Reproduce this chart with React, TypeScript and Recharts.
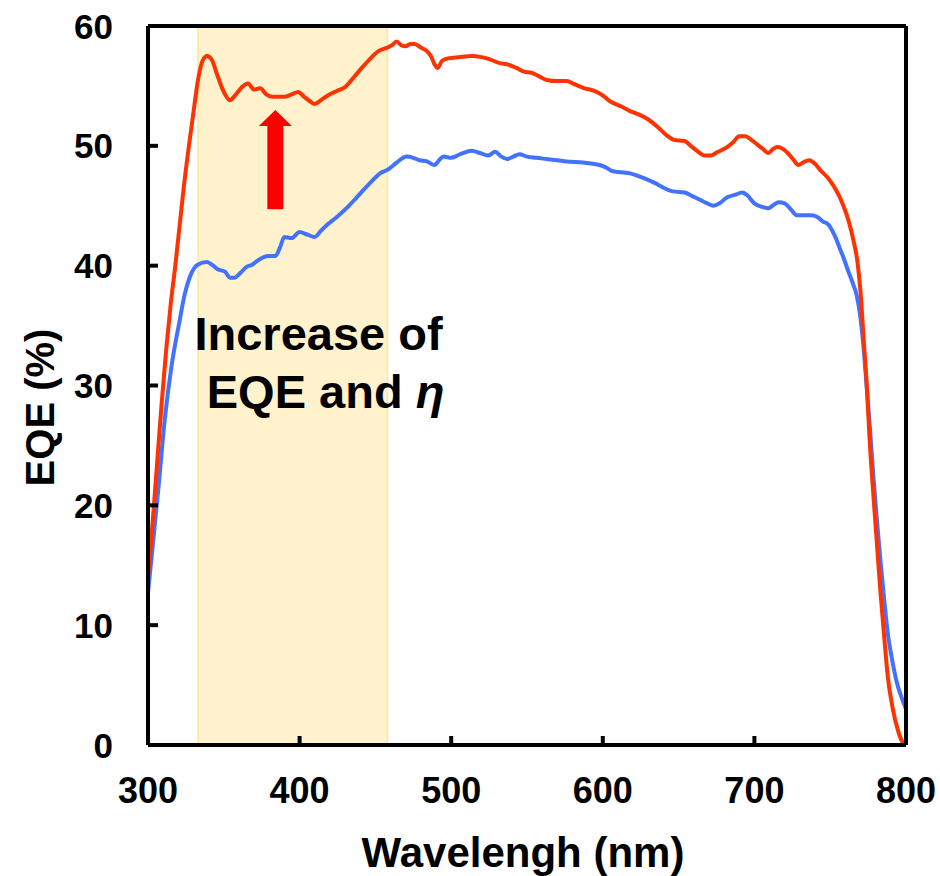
import React from "react";
import {
  LineChart,
  Line,
  XAxis,
  YAxis,
  ReferenceArea,
  ReferenceLine,
} from "recharts";

const xTicks = [300, 400, 500, 600, 700, 800];
const yTicks = [0, 10, 20, 30, 40, 50, 60];

// red curve (after treatment)
const redWavelength = [
  300, 303, 306, 309, 312, 315, 318, 321, 324, 327, 330, 333, 336, 339, 342, 346, 350, 354,
  358, 362, 366, 370, 374, 378, 382, 386, 390, 395, 399, 403, 407, 410, 415, 420, 425, 430,
  435, 441, 446, 452, 458, 461, 464, 467, 470, 473, 476, 480, 484, 487, 489, 491, 494, 498,
  505, 514, 520, 526, 532, 537, 543, 548, 553, 558, 563, 570, 576, 582, 588, 594, 600, 605,
  612, 618, 624, 630, 636, 642, 647, 654, 658, 663, 667, 671, 676, 682, 686, 690, 694, 698,
  702, 706, 709, 712, 715, 718, 722, 726, 729, 732, 736, 740, 744, 748, 752, 756, 759, 762,
  765, 768, 770, 772, 774, 776, 778.5, 781, 783, 785.5, 788, 791, 794.5, 797, 799.5,
];
const redEqe = [
  14.0, 18.5, 23.5, 28.5, 33.0, 36.8, 40.0, 43.5, 47.0, 50.0, 52.8, 55.5, 57.1, 57.5, 57.2, 55.8, 54.5, 53.8,
  54.3, 54.9, 55.2, 54.7, 54.8, 54.3, 54.1, 54.1, 54.1, 54.3, 54.5, 54.1, 53.7, 53.5, 53.9, 54.3, 54.6, 54.9,
  55.6, 56.5, 57.2, 57.9, 58.2, 58.4, 58.7, 58.4, 58.3, 58.5, 58.5, 58.2, 57.9, 57.4, 56.8, 56.5, 57.1, 57.3,
  57.4, 57.5, 57.4, 57.2, 56.9, 56.8, 56.5, 56.2, 56.1, 55.8, 55.5, 55.4, 55.4, 55.1, 54.8, 54.6, 54.2, 53.7,
  53.3, 52.9, 52.6, 52.2, 51.6, 50.9, 50.5, 50.4, 50.0, 49.5, 49.2, 49.2, 49.5, 49.9, 50.3, 50.8, 50.8, 50.5,
  50.1, 49.7, 49.4, 49.7, 49.9, 49.8, 49.4, 48.8, 48.4, 48.6, 48.8, 48.5, 47.9, 47.4, 46.7, 45.8, 44.9, 43.8,
  42.3, 40.3, 37.8, 34.0, 30.3, 25.5, 20.8, 16.5, 13.0, 9.2, 5.7, 3.2, 1.3, 0.4, 0.0,
];

// blue curve (reference)
const blueWavelength = [
  300, 303.5, 307, 311, 315.5, 321, 324, 327.7, 333, 338.7, 342, 346, 350.8, 354, 357, 361, 365, 369,
  372, 376, 380, 384, 387, 390, 394.8, 400, 405, 410, 414, 418, 424, 431, 437, 442, 448, 453,
  458, 464, 470.6, 475, 479, 484, 489, 492, 495, 500, 506, 513.5, 519, 524.5, 529, 533, 537, 541,
  545, 550, 556, 563, 570, 576, 587, 598, 602, 606, 612, 618, 625, 631, 636, 640, 646, 654,
  659, 664, 669, 673, 677, 682, 687, 692, 695, 700, 705, 709, 713, 716, 720, 724, 728, 732,
  737, 741, 745, 749, 753, 756.5, 759, 762, 765, 767.5, 770, 772, 774, 776, 778.5, 781, 783, 785.5,
  788, 791, 794, 797, 800,
];
const blueEqe = [
  12.7, 17.1, 21.6, 27.1, 31.6, 35.5, 37.5, 39.1, 40.1, 40.3, 40.1, 39.7, 39.5, 39.0, 39.0, 39.4, 39.9, 40.1,
  40.4, 40.7, 40.8, 40.8, 41.5, 42.4, 42.3, 42.8, 42.6, 42.4, 42.9, 43.4, 44.0, 44.8, 45.6, 46.3, 47.1, 47.7,
  48.0, 48.6, 49.1, 49.0, 48.8, 48.7, 48.4, 48.8, 49.1, 49.0, 49.3, 49.6, 49.4, 49.2, 49.5, 49.1, 48.9, 49.1,
  49.3, 49.1, 49.0, 48.9, 48.8, 48.7, 48.6, 48.4, 48.2, 47.9, 47.8, 47.7, 47.4, 47.1, 46.8, 46.5, 46.2, 46.1,
  45.8, 45.5, 45.2, 45.0, 45.2, 45.7, 45.9, 46.1, 45.9, 45.2, 44.9, 44.8, 45.1, 45.3, 45.2, 44.7, 44.2, 44.2,
  44.2, 44.1, 43.7, 43.4, 42.5, 41.4, 40.6, 39.5, 38.5, 37.5, 35.6, 33.2, 30.0, 26.8, 22.4, 18.5, 15.6, 12.3,
  9.3, 7.0, 5.2, 4.0, 3.0,
];

const redData = redWavelength.map((w, i) => ({ wl: w, eqe: redEqe[i] }));
const blueData = blueWavelength.map((w, i) => ({ wl: w, eqe: blueEqe[i] }));

const FONT = '"Liberation Sans", Arial, Helvetica, sans-serif';

const YTick = (props: any) => {
  const { x, y, payload } = props;
  const v = payload.value;
  return (
    <g>
      {v !== 0 && v !== 60 && (
        <line x1={x} y1={y} x2={x + 10} y2={y} stroke="#000" strokeWidth={4} />
      )}
      <text x={x - 35} y={y + 12.5} textAnchor="end" fontFamily={FONT} fontWeight="bold" fontSize={35} fill="#000">
        {v}
      </text>
    </g>
  );
};

const XTick = (props: any) => {
  const { x, y, payload } = props;
  const v = payload.value;
  return (
    <g>
      {v !== 300 && v !== 800 && (
        <line x1={x} y1={y} x2={x} y2={y - 9} stroke="#000" strokeWidth={4} />
      )}
      <text x={x} y={y + 58} textAnchor="middle" fontFamily={FONT} fontWeight="bold" fontSize={36} fill="#000">
        {v}
      </text>
    </g>
  );
};

const Arrow = (props: any) => {
  const { x1, y1, x2, y2 } = props;
  const cx = (x1 + x2) / 2;
  const top = Math.min(y1, y2);
  const bottom = Math.max(y1, y2);
  const head = 16;
  const pts = [
    [cx, top],
    [cx + 16.5, top + head],
    [cx + 8, top + head],
    [cx + 8, bottom],
    [cx - 8, bottom],
    [cx - 8, top + head],
    [cx - 16.5, top + head],
  ]
    .map((p) => p.join(","))
    .join(" ");
  return <polygon points={pts} fill="#FF0000" />;
};

const Note = (props: any) => {
  const { x1, y1 } = props;
  return (
    <g fontFamily={FONT} fontWeight="bold" fontSize={47} fill="#000">
      <text x={x1} y={y1} textAnchor="middle">
        Increase of
      </text>
      <text x={x1 + 7} y={y1 + 58} textAnchor="middle">
        EQE and <tspan fontStyle="italic">η</tspan>
      </text>
    </g>
  );
};

export default function App() {
  return (
    <div style={{ position: "absolute", left: 0, top: 0, background: "#fff" }}>
      <LineChart width={940} height={876} margin={{ top: 26, right: 34, bottom: 0, left: 0 }}>
        <XAxis
          type="number"
          dataKey="wl"
          domain={[300, 800]}
          ticks={xTicks}
          allowDataOverflow
          height={131}
          tickSize={0}
          tickMargin={0}
          tickLine={false}
          axisLine={{ stroke: "#000", strokeWidth: 4 }}
          tick={<XTick />}
          label={{
            content: (p: any) => {
              const vb = p.viewBox;
              return (
                <text x={vb.x + vb.width / 2 - 4} y={vb.y + 122} textAnchor="middle" fontFamily={FONT} fontWeight="bold" fontSize={42} fill="#000">
                  Wavelengh (nm)
                </text>
              );
            },
          }}
        />
        <YAxis
          type="number"
          domain={[0, 60]}
          ticks={yTicks}
          allowDataOverflow
          width={148}
          tickSize={0}
          tickMargin={0}
          tickLine={false}
          axisLine={{ stroke: "#000", strokeWidth: 4 }}
          tick={<YTick />}
          label={{
            content: (p: any) => {
              const vb = p.viewBox;
              const cy = vb.y + vb.height / 2 + 22;
              return (
                <text x={54} y={cy} transform={`rotate(-90 54 ${cy})`} textAnchor="middle" fontFamily={FONT} fontWeight="bold" fontSize={40} fill="#000">
                  EQE (%)
                </text>
              );
            },
          }}
        />
        <ReferenceArea x1={333} x2={458} y1={0} y2={60} fill="#FFF2CC" fillOpacity={1} stroke="#FFE699" strokeWidth={1.5} />
        <Line data={blueData} dataKey="eqe" type="monotone" stroke="#4372FF" strokeWidth={4} dot={false} isAnimationActive={false} />
        <Line data={redData} dataKey="eqe" type="monotone" stroke="#FF3300" strokeWidth={4} dot={false} isAnimationActive={false} />
        <ReferenceLine y={60} stroke="#000" strokeWidth={4} />
        <ReferenceLine x={800} stroke="#000" strokeWidth={4} />
        <ReferenceLine segment={[{ x: 384, y: 53.0 }, { x: 384, y: 44.7 }]} shape={<Arrow />} />
        <ReferenceLine segment={[{ x: 412.5, y: 33.0 }, { x: 412.5, y: 33.0 }]} shape={<Note />} />
      </LineChart>
    </div>
  );
}
